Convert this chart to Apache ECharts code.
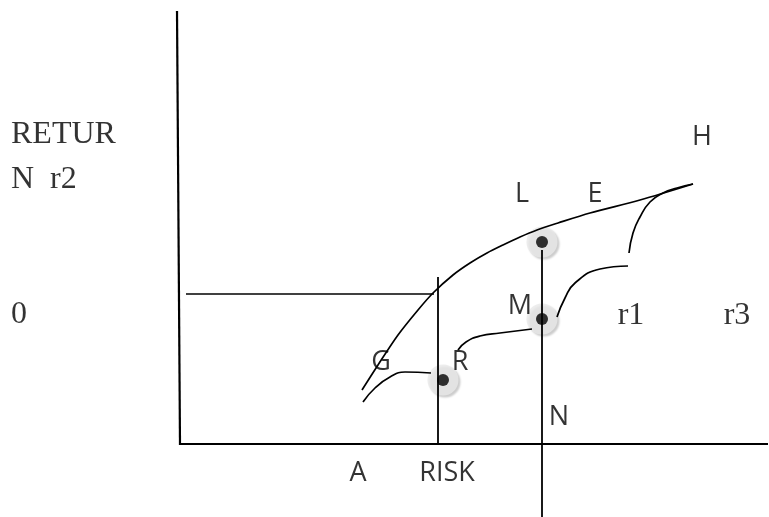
<!DOCTYPE html>
<html>
<head>
<meta charset="utf-8">
<script src="https://cdn.jsdelivr.net/npm/echarts@6/dist/echarts.min.js"></script>
<style>
  html, body { margin: 0; padding: 0; background: #fff; }
  #chart { width: 769px; height: 517px; }
</style>
</head>
<body>
<div id="chart"></div>
<script>
// diagram coordinates (x right, y down) on a 769 x 517 sheet
var yAxisLine = [[177, 11], [180, 445]];
var xAxisLine = [[180, 444], [768, 444]];
var hLine = [[186, 294], [434, 294]];
var riskLine = [[438, 277], [438, 444]];
var nLine = [[542, 250], [542, 517]];

var frontier = [[362, 390], [378, 365], [398, 335], [418, 310], [433, 293], [453, 275], [470, 263], [487, 253], [503, 245], [520, 237], [537, 230], [558, 223], [590, 213], [640, 200], [693, 184]];
var curveG = [[363, 402], [375, 388], [390, 377], [405, 372], [431, 373]];
var curveRM = [[458, 350], [466, 342], [480, 336], [500, 333], [532, 329]];
var curveM = [[557, 317], [565, 298], [575, 283], [600, 269], [628, 266]];
var curveH = [[629, 253], [633, 233], [640, 217], [650, 202], [663, 193], [677, 188], [693, 184]];

var dots = [[542, 242], [542, 319], [443, 380]];

var sansLabels = ['H', 'L', 'E', 'M', 'G', 'R', 'N', 'A', 'RISK'];
var sansPos = [[702, 137], [522, 194], [595, 194], [520, 306], [381, 362], [460, 362], [559, 417], [358, 473], [447, 473]];
var serifLabels = ['RETUR', 'N  r2', '0', 'r1', 'r3'];
var serifPos = [[11, 135], [11, 180], [11, 315], [631, 316], [737, 316]];
var serifAlign = ['left', 'left', 'left', 'center', 'center'];

var myChart = echarts.init(document.getElementById('chart'));

function lineSeries(pts, smooth, width) {
  return {
    type: 'line',
    data: pts,
    smooth: smooth,
    symbol: 'none',
    silent: true,
    z: 3,
    lineStyle: { color: '#000', width: width }
  };
}

var sansData = sansLabels.map(function (t, i) {
  return { name: t, value: sansPos[i] };
});
var serifData = serifLabels.map(function (t, i) {
  return { name: t, value: serifPos[i], label: { align: serifAlign[i] } };
});

var option = {
  backgroundColor: '#fff',
  animation: false,
  grid: { left: 0, right: 0, top: 0, bottom: 0 },
  xAxis: { type: 'value', min: 0, max: 769, show: false },
  yAxis: { type: 'value', min: 0, max: 517, inverse: true, show: false },
  series: [
    lineSeries(yAxisLine, false, 2.2),
    lineSeries(xAxisLine, false, 2.2),
    lineSeries(hLine, false, 1.5),
    lineSeries(riskLine, false, 1.8),
    lineSeries(nLine, false, 1.8),
    lineSeries(frontier, 0.3, 1.7),
    lineSeries(curveG, 0.5, 1.7),
    lineSeries(curveRM, 0.5, 1.7),
    lineSeries(curveM, 0.5, 1.7),
    lineSeries(curveH, 0.5, 1.7),
    {
      type: 'scatter',
      data: dots,
      symbolSize: 31,
      silent: true,
      z: 2,
      itemStyle: {
        color: '#e9e9e9',
        shadowColor: 'rgba(0,0,0,0.25)',
        shadowBlur: 2,
        shadowOffsetX: 2,
        shadowOffsetY: 2
      }
    },
    {
      type: 'scatter',
      data: dots,
      symbolSize: 12,
      silent: true,
      z: 5,
      itemStyle: { color: '#000' }
    },
    {
      type: 'scatter',
      data: sansData,
      symbolSize: 0,
      silent: true,
      z: 6,
      label: {
        show: true,
        position: 'inside',
        formatter: '{b}',
        color: '#000',
        textBorderWidth: 0,
        fontFamily: 'Open Sans',
        fontSize: 27
      }
    },
    {
      type: 'scatter',
      data: serifData,
      symbolSize: 0,
      silent: true,
      z: 6,
      label: {
        show: true,
        position: 'inside',
        formatter: '{b}',
        color: '#000',
        textBorderWidth: 0,
        fontFamily: 'Liberation Serif',
        fontSize: 32
      }
    }
  ]
};
myChart.setOption(option);
</script>
</body>
</html>
